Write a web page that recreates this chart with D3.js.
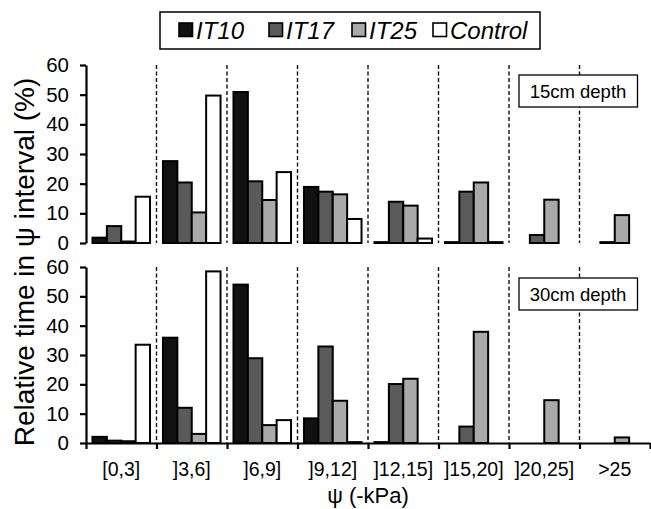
<!DOCTYPE html>
<html>
<head>
<meta charset="utf-8">
<script src="https://cdn.jsdelivr.net/npm/d3@7"></script>
<style>
  html, body { margin: 0; padding: 0; background: #fff; }
  svg { display: block; font-family: "Liberation Sans", Arial, sans-serif; }
</style>
</head>
<body>
<svg id="chart" width="651" height="509"></svg>
<script>
// Soil water potential intervals (x categories)
const intervals = ["[0,3]", "]3,6]", "]6,9]", "]9,12]", "]12,15]", "]15,20]", "]20,25]", ">25"];
const seriesNames = ["IT10", "IT17", "IT25", "Control"];
const seriesColors = ["#111111", "#5a5a5a", "#a9a9a9", "#ffffff"];
const yTicks = [0, 10, 20, 30, 40, 50, 60];

// Relative time (%) spent in each interval, 15 cm depth
const depth15 = {
  IT10:    [1.8, 27.6, 50.9, 18.9, 0.3, 0.3, 0,    0],
  IT17:    [5.7, 20.4, 20.8, 17.3, 13.9, 17.3, 2.7, 0.3],
  IT25:    [0.5, 10.3, 14.5, 16.4, 12.6, 20.4, 14.6, 9.4],
  Control: [15.6, 49.7, 23.9, 8.1, 1.5, 0.3, 0,    0]
};
// Relative time (%) spent in each interval, 30 cm depth
const depth30 = {
  IT10:    [2.1, 35.9, 54.0, 8.4, 0.3, 0,    0,    0],
  IT17:    [0.8, 12.0, 28.9, 32.9, 20.1, 5.6, 0,    0],
  IT25:    [0.6, 3.1,  6.1,  14.4, 21.9, 37.9, 14.6, 1.9],
  Control: [33.5, 58.5, 7.8, 0.3, 0,    0,    0,    0]
};

const svg = d3.select("#chart");
const xLeft = 86, xRight = 650;
const FONT = "Liberation Sans, Arial, sans-serif";

const x = d3.scaleBand().domain(intervals).range([xLeft, xRight]).paddingInner(0).paddingOuter(0);
const xs = d3.scaleBand().domain(seriesNames).range([0, x.bandwidth()]).paddingInner(0).paddingOuter(0.45);
const color = d3.scaleOrdinal().domain(seriesNames).range(seriesColors);
const boundary = d3.scaleLinear().domain([0, intervals.length]).range([xLeft, xRight]);

function drawPanel(data, y0, y60, label, withXAxis, boxY) {
  const y = d3.scaleLinear().domain([0, 60]).range([y0, y60]);
  const g = svg.append("g");

  // dashed separators between intervals
  g.append("g").selectAll("line")
    .data(d3.range(1, intervals.length))
    .join("line")
    .attr("x1", d => boundary(d)).attr("x2", d => boundary(d))
    .attr("y1", y(60)).attr("y2", y(0))
    .attr("stroke", "#111").attr("stroke-width", 1.4)
    .attr("stroke-dasharray", "4,2.5");

  // bars
  const rows = [];
  intervals.forEach((iv, i) => {
    seriesNames.forEach(s => {
      const v = data[s][i];
      if (v > 0) rows.push({ iv, s, v });
    });
  });
  g.append("g").selectAll("rect")
    .data(rows)
    .join("rect")
    .attr("x", d => x(d.iv) + xs(d.s))
    .attr("width", xs.bandwidth())
    .attr("y", d => y(d.v))
    .attr("height", d => y(0) - y(d.v))
    .attr("fill", d => color(d.s))
    .attr("stroke", "#000")
    .attr("stroke-width", 2);

  // y axis
  const ya = g.append("g")
    .attr("transform", `translate(${xLeft},0)`)
    .call(d3.axisLeft(y).tickValues(yTicks).tickSize(6).tickSizeOuter(0).tickPadding(11));
  ya.select(".domain").attr("stroke", "#000").attr("stroke-width", 2.2);
  ya.selectAll(".tick line").attr("stroke", "#000").attr("stroke-width", 2.2);
  ya.selectAll(".tick text").attr("font-size", 20.5).attr("fill", "#000")
    .attr("font-family", FONT);

  if (withXAxis) {
    const xa = g.append("g")
      .attr("transform", `translate(0,${y0})`)
      .call(d3.axisBottom(boundary).tickValues(d3.range(0, intervals.length + 1)).tickFormat("").tickSize(6).tickSizeOuter(0));
    xa.select(".domain").attr("stroke", "#000").attr("stroke-width", 2.2);
    xa.selectAll(".tick line").attr("stroke", "#000").attr("stroke-width", 2.2);

    const xl = g.append("g")
      .attr("transform", `translate(0,${y0 + 13})`)
      .call(d3.axisBottom(x).tickSize(0).tickPadding(6));
    xl.select(".domain").remove();
    xl.selectAll(".tick text").attr("font-size", 19.5).attr("fill", "#000")
      .attr("font-family", FONT);
  }

  // depth label box
  g.append("rect")
    .attr("x", 519).attr("y", boxY).attr("width", 118.5).attr("height", 32)
    .attr("fill", "#fff").attr("stroke", "#000").attr("stroke-width", 1.3);
  g.append("text")
    .attr("x", 578).attr("y", boxY + 22.5)
    .attr("text-anchor", "middle").attr("font-size", 18.5).attr("fill", "#000")
    .text(label);
}

drawPanel(depth15, 243, 65, "15cm depth", false, 75);
drawPanel(depth30, 443, 267, "30cm depth", true, 278);

// legend
const legend = svg.append("g");
legend.append("rect")
  .attr("x", 160).attr("y", 12).attr("width", 380).attr("height", 37)
  .attr("fill", "#fff").attr("stroke", "#000").attr("stroke-width", 1.5);
const legendX = [179, 269, 352, 433];
seriesNames.forEach((s, i) => {
  legend.append("rect")
    .attr("x", legendX[i]).attr("y", 23).attr("width", 13.5).attr("height", 13.5)
    .attr("fill", color(s)).attr("stroke", "#000").attr("stroke-width", 1.6);
  legend.append("text")
    .attr("x", legendX[i] + 17).attr("y", 38.5)
    .attr("font-size", 24).attr("font-style", "italic").attr("fill", "#000")
    .text(s);
});

// axis titles
svg.append("text")
  .attr("transform", "translate(34,262) rotate(-90)")
  .attr("text-anchor", "middle").attr("font-size", 28).attr("fill", "#000")
  .text("Relative time in ψ interval (%)");
svg.append("text")
  .attr("x", 368).attr("y", 503)
  .attr("text-anchor", "middle").attr("font-size", 22).attr("fill", "#000")
  .text("ψ (-kPa)");
</script>
</body>
</html>
